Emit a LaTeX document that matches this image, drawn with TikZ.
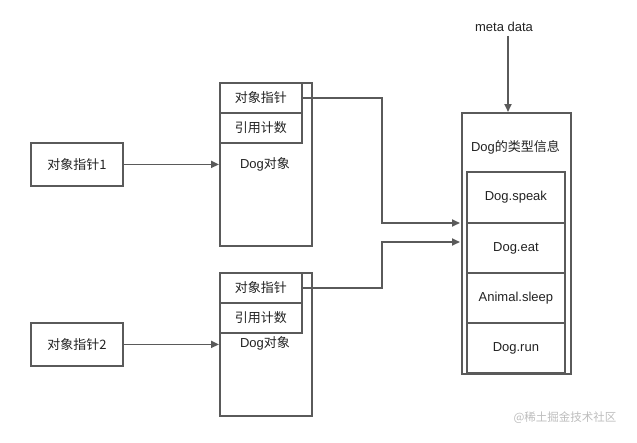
\documentclass[tikz,border=0pt]{standalone}
\usepackage{fontspec}
\setmainfont{Liberation Sans}
\newfontfamily\cjk{Noto Sans CJK SC}
\usetikzlibrary{arrows.meta}
\definecolor{ln}{HTML}{5A5A5A}
\definecolor{wm}{HTML}{BDBDBD}
\definecolor{tx}{HTML}{222222}
\tikzset{
  box/.style={draw=ln, line width=1.8pt, inner sep=0pt, anchor=north west, text=tx, font=\fontsize{13}{15}\selectfont},
  lbl/.style={inner sep=0pt, font=\fontsize{13}{15}\selectfont, text=tx},
  arr/.style={draw=ln, line width=1.8pt, -{Triangle[length=8pt,width=7pt]}},
}
\begin{document}
\begin{tikzpicture}[x=1pt,y=-1pt]
\useasboundingbox (0,0) rectangle (637,442);
% left pointer boxes
\node[box, minimum width=92pt, minimum height=43pt] (p1) at (30,142) {\cjk{对象指针}1};
\node[box, minimum width=92pt, minimum height=43pt] (p2) at (30,322) {\cjk{对象指针}2};
% object 1
\node[box, minimum width=92pt, minimum height=163pt] (o1) at (219,82) {};
\node[box, minimum width=82pt, minimum height=30pt] (c1) at (219,82) {\cjk{对象指针}};
\node[box, minimum width=82pt, minimum height=30pt] (r1) at (219,112) {\cjk{引用计数}};
\node[lbl] (d1) at (265,164) {Dog\cjk{对象}};
% object 2
\node[box, minimum width=92pt, minimum height=143pt] (o2) at (219,272) {};
\node[box, minimum width=82pt, minimum height=30pt] (c2) at (219,272) {\cjk{对象指针}};
\node[box, minimum width=82pt, minimum height=30pt] (r2) at (219,302) {\cjk{引用计数}};
\node[lbl] (d2) at (265,343) {Dog\cjk{对象}};
% type info
\node[box, minimum width=109pt, minimum height=261pt] (t) at (461,112) {};
\node[lbl] (tt) at (515.5,147) {Dog\cjk{的类型信息}};
\node[box, minimum width=98pt, minimum height=51pt] (m1) at (466,171) {Dog.speak};
\node[box, minimum width=98pt, minimum height=50pt] (m2) at (466,222) {Dog.eat};
\node[box, minimum width=98pt, minimum height=50pt] (m3) at (466,272) {Animal.sleep};
\node[box, minimum width=98pt, minimum height=50pt] (m4) at (466,322) {Dog.run};
% meta data
\node[lbl] (md) at (504,27) {meta data};
\coordinate (mt) at (508,112);
\draw[arr] (md.south -| mt) ++(0,4) -- (mt);
% connectors
\draw[arr] (p1.east) -- (p1.east -| o1.west);
\draw[arr] (p2.east) -- (p2.east -| o2.west);
\coordinate (e1) at (460,223);
\coordinate (e2) at (460,242);
\coordinate (k1) at (382,223);
\coordinate (k2) at (382,242);
\draw[arr] (c1.east) -| (k1) -- (e1);
\draw[arr] (c2.east) -| (k2) -- (e2);
% watermark
\node[inner sep=0pt, text=wm, font=\fontsize{11.5}{13}\selectfont\cjk] (w) at (565,418) {@稀土掘金技术社区};
\end{tikzpicture}
\end{document}
